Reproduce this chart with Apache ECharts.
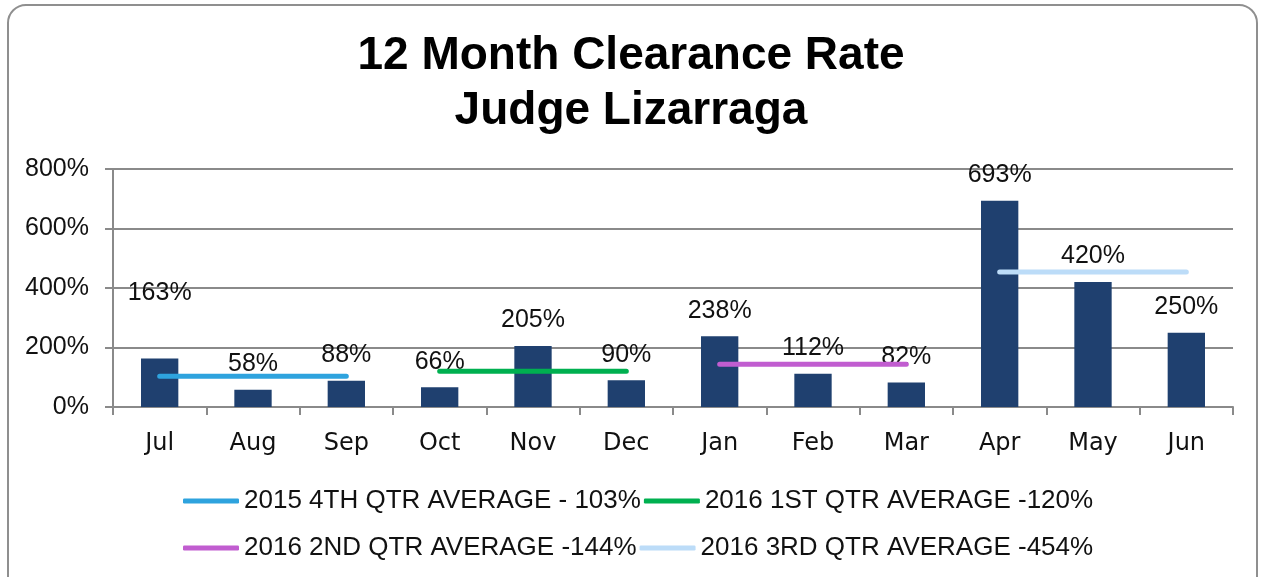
<!DOCTYPE html>
<html>
<head>
<meta charset="utf-8">
<script src="https://cdn.jsdelivr.net/npm/echarts@6/dist/echarts.min.js"></script>
<style>
  html, body { margin: 0; padding: 0; background: #fff; }
  #chart { width: 1262px; height: 577px; }
</style>
</head>
<body>
<div id="chart"></div>
<script>
// data
const months = ['Jul', 'Aug', 'Sep', 'Oct', 'Nov', 'Dec', 'Jan', 'Feb', 'Mar', 'Apr', 'May', 'Jun']
const clearanceRate = [163, 58, 88, 66, 205, 90, 238, 112, 82, 693, 420, 250]
const quarterNames = [
  '2015 4TH QTR AVERAGE - 103%',
  '2016 1ST QTR AVERAGE -120%',
  '2016 2ND QTR AVERAGE -144%',
  '2016 3RD QTR AVERAGE -454%'
]
const quarterAverages = [103, 120, 144, 454]
const quarterColors = ['#2ea3de', '#00b050', '#c15dd0', '#bcdcf8']
const yTicks = [0, 200, 400, 600, 800]

const chart = echarts.init(document.getElementById('chart'))

// the Jul label sits higher in the original
const liftedLabel = 0

const barData = clearanceRate.map((v, i) => i === liftedLabel
  ? { value: v, label: { offset: [0, -40] } }
  : v)

const lineSeries = quarterAverages.map((avg, q) => ({
  name: quarterNames[q],
  type: 'line',
  data: months.map((m, i) => (Math.floor(i / 3) === q ? avg : null)),
  symbol: 'none',
  connectNulls: false,
  z: 5,
  lineStyle: { color: quarterColors[q], width: 5, cap: 'round' },
  itemStyle: { color: quarterColors[q] }
}))

const legendText = { fontFamily: 'Liberation Sans', fontSize: 26, color: '#111' }

const option = {
  animation: false,
  textStyle: { fontFamily: 'Liberation Sans' },
  title: {
    text: '12 Month Clearance Rate\nJudge Lizarraga',
    left: 'center',
    top: 24,
    textStyle: { fontSize: 46, fontWeight: 'bold', color: '#000', lineHeight: 55, fontFamily: 'Liberation Sans' }
  },
  graphic: [{
    type: 'rect',
    shape: { x: 8, y: 5, width: 1249, height: 620, r: 18 },
    style: { fill: 'none', stroke: '#8f8f8f', lineWidth: 2 },
    silent: true
  }],
  legend: [{
    data: quarterNames.slice(0, 2),
    left: 178,
    top: 483,
    itemWidth: 56,
    itemHeight: 5,
    itemGap: 3,
    icon: 'roundRect',
    textStyle: legendText
  }, {
    data: quarterNames.slice(2),
    left: 178,
    top: 530,
    itemWidth: 56,
    itemHeight: 5,
    itemGap: 3,
    icon: 'roundRect',
    textStyle: legendText
  }],
  grid: { left: 113, right: 29, top: 169, bottom: 170 },
  xAxis: {
    type: 'category',
    data: months,
    axisLine: { lineStyle: { color: '#8a8a8a', width: 2 } },
    axisTick: { show: true, length: 8, lineStyle: { color: '#8a8a8a', width: 2 } },
    axisLabel: { fontSize: 24, color: '#111', margin: 25, fontFamily: 'DejaVu Sans' }
  },
  yAxis: {
    type: 'value',
    min: 0,
    max: 800,
    interval: 200,
    axisLine: { show: true, lineStyle: { color: '#8a8a8a', width: 2 } },
    axisTick: { show: true, length: 8, lineStyle: { color: '#8a8a8a', width: 2 } },
    splitLine: { lineStyle: { color: '#8a8a8a', width: 2 } },
    axisLabel: {
      fontSize: 25,
      color: '#111',
      margin: 24,
      formatter: v => (yTicks.includes(v) ? v + '%' : '')
    }
  },
  series: [{
    name: 'Clearance Rate',
    type: 'bar',
    data: barData,
    barWidth: '40%',
    itemStyle: { color: '#1f406f' },
    label: {
      show: true,
      position: 'top',
      distance: 13,
      fontSize: 25,
      color: '#111',
      formatter: '{c}%'
    }
  }].concat(lineSeries)
}

chart.setOption(option)
</script>
</body>
</html>
